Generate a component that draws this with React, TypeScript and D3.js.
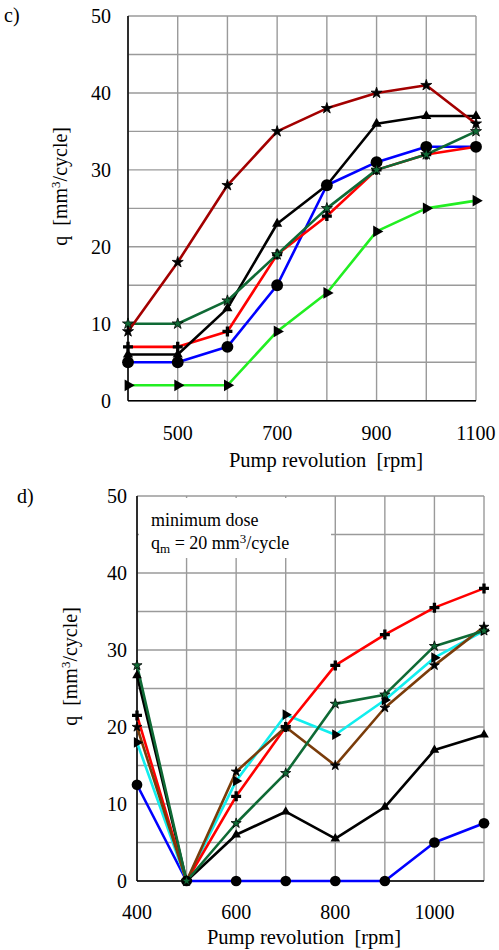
import React, { useEffect, useRef } from 'react';
import * as d3 from 'd3';

// pump revolution [rpm]
const rpm = [400, 500, 600, 700, 800, 900, 1000, 1100];

// panel c) delivered dose q [mm3/cycle]
const cDarkRed = [9, 18, 28, 35, 38, 40, 41, 36];
const cBlack = [6, 6, 12, 23, 28, 36, 37, 37];
const cBlue = [5, 5, 7, 15, 28, 31, 33, 33];
const cRed = [7, 7, 9, 19, 24, 30, 32, 33];
const cDarkGreen = [10, 10, 13, 19, 25, 30, 32, 35];
const cGreen = [2, 2, 2, 9, 14, 22, 25, 26];

// panel d) minimum dose qm = 20 mm3/cycle
const dBlue = [12.5, 0, 0, 0, 0, 0, 5, 7.5];
const dBlack = [26.7, 0, 6, 9, 5.5, 9.6, 17, 19];
const dRed = [21.5, 0, 11, 20, 28, 32, 35.5, 38];
const dCyan = [18, 0, 13, 21.6, 19, 23.5, 29, 32.5];
const dBrown = [20, 0, 14.2, 20, 15, 22.5, 28, 33];
const dDarkGreen = [28, 0, 7.5, 14, 23, 24.2, 30.5, 32.5];

const cTicksX = [500, 700, 900, 1100];
const dTicksX = [400, 600, 800, 1000];
const yTicks = [0, 10, 20, 30, 40, 50];

type Series = { values: number[]; color: string; marker: string; size: number };

const cSeries: Series[] = [
  { values: cGreen, color: '#22ee22', marker: 'right', size: 60 },
  { values: cBlue, color: '#0000ff', marker: 'circle', size: 110 },
  { values: cRed, color: '#ff0000', marker: 'plus', size: 55 },
  { values: cBlack, color: '#000000', marker: 'triangle', size: 45 },
  { values: cDarkGreen, color: '#0f6a35', marker: 'star', size: 38 },
  { values: cDarkRed, color: '#a30000', marker: 'star', size: 38 },
];

const dSeries: Series[] = [
  { values: dBlue, color: '#0000ff', marker: 'circle', size: 90 },
  { values: dBlack, color: '#000000', marker: 'triangle', size: 40 },
  { values: dCyan, color: '#11eeee', marker: 'right', size: 50 },
  { values: dRed, color: '#ff0000', marker: 'plus', size: 55 },
  { values: dBrown, color: '#7a3c0a', marker: 'star', size: 30 },
  { values: dDarkGreen, color: '#0f6a35', marker: 'star', size: 32 },
];

const FONT = '"Liberation Serif", "Times New Roman", serif';
const SP = '\u00a0';

const symbolOf = (m: string) => {
  if (m === 'circle') return d3.symbolCircle;
  if (m === 'plus') return d3.symbolCross;
  if (m === 'star') return d3.symbolStar;
  return d3.symbolTriangle;
};

function drawPanel(
  svg: d3.Selection<SVGSVGElement, unknown, null, undefined>,
  opt: {
    left: number; right: number; top: number; bottom: number;
    series: Series[]; ticksX: number[]; label: string; labelX: number; labelY: number;
    yTitleX: number; tickLabelX: number; xLabelY: number; xTitleX: number; xTitleY: number; note?: boolean;
  },
) {
  const x = d3.scaleLinear().domain([400, 1100]).range([opt.left, opt.right]);
  const y = d3.scaleLinear().domain([0, 50]).range([opt.bottom, opt.top]);
  const g = svg.append('g');

  // grid
  g.selectAll('line.vg').data(rpm).enter().append('line')
    .attr('x1', d => x(d)).attr('x2', d => x(d))
    .attr('y1', y(0)).attr('y2', y(50))
    .attr('stroke', '#9a9a9a').attr('stroke-width', 1.4);
  g.selectAll('line.hg').data(d3.range(0, 51, 5)).enter().append('line')
    .attr('x1', x(400)).attr('x2', x(1100))
    .attr('y1', d => y(d)).attr('y2', d => y(d))
    .attr('stroke', '#9a9a9a').attr('stroke-width', 1.4);

  if (opt.note) {
    g.append('rect').attr('x', x(400) + 2).attr('y', y(50) + 2)
      .attr('width', 192).attr('height', 60).attr('fill', '#fff');
    g.append('text').attr('x', x(400) + 14).attr('y', y(50) + 30)
      .style('font-family', FONT).style('font-size', '18px').text('minimum dose');
    const t = g.append('text').attr('x', x(400) + 14).attr('y', y(50) + 53)
      .style('font-family', FONT).style('font-size', '18px');
    t.append('tspan').text('q');
    t.append('tspan').attr('dy', 4).style('font-size', '13px').text('m');
    t.append('tspan').attr('dy', -4).text(' = 20 mm');
    t.append('tspan').attr('dy', -6).style('font-size', '13px').text('3');
    t.append('tspan').attr('dy', 6).text('/cycle');
  }

  // axes lines
  g.append('line').attr('x1', x(400)).attr('x2', x(400)).attr('y1', y(0)).attr('y2', y(50))
    .attr('stroke', '#000').attr('stroke-width', 1.5);
  g.append('line').attr('x1', x(400)).attr('x2', x(1100)).attr('y1', y(0)).attr('y2', y(0))
    .attr('stroke', '#000').attr('stroke-width', 1.5);

  // lines
  const line = d3.line<number>().x((_, i) => x(rpm[i])).y(d => y(d));
  opt.series.forEach(s => {
    g.append('path').attr('d', line(s.values)).attr('fill', 'none')
      .attr('stroke', s.color).attr('stroke-width', 2.6).attr('stroke-linejoin', 'round');
  });
  opt.series.forEach(s => {
    const sym = d3.symbol().type(symbolOf(s.marker)).size(s.size);
    g.selectAll(null).data(s.values).enter().append('path')
      .attr('d', sym)
      .attr('transform', (d, i) => `translate(${x(rpm[i])},${y(d)})${s.marker === 'right' ? ' rotate(90)' : ''}`)
      .attr('fill', s.marker === 'star' && s.color === '#0f6a35' ? s.color : '#000')
      .attr('stroke', s.marker === 'star' ? '#000' : 'none')
      .attr('stroke-width', s.marker === 'star' ? 0.8 : 0);
  });

  // tick labels
  g.selectAll('text.yt').data(yTicks).enter().append('text')
    .attr('x', opt.tickLabelX).attr('y', d => y(d) + 7)
    .attr('text-anchor', 'end')
    .style('font-family', FONT).style('font-size', '20px').text(d => d);
  g.selectAll('text.xt').data(opt.ticksX).enter().append('text')
    .attr('x', d => x(d)).attr('y', opt.xLabelY)
    .attr('text-anchor', 'middle')
    .style('font-family', FONT).style('font-size', '20px').text(d => d);

  g.append('text').attr('x', opt.xTitleX).attr('y', opt.xTitleY)
    .attr('text-anchor', 'middle')
    .style('font-family', FONT).style('font-size', '20.5px').text(`Pump revolution${SP}${SP}[rpm]`);

  const yt = g.append('text')
    .attr('transform', `translate(${opt.yTitleX},${(y(0) + y(50)) / 2 - 22}) rotate(-90)`)
    .attr('text-anchor', 'middle')
    .style('font-family', FONT).style('font-size', '20px');
  yt.append('tspan').text(`q${SP}${SP}[mm`);
  yt.append('tspan').attr('dy', -7).style('font-size', '13px').text('3');
  yt.append('tspan').attr('dy', 7).text('/cycle]');

  svg.append('text').attr('x', opt.labelX).attr('y', opt.labelY)
    .style('font-family', FONT).style('font-size', '20px').text(opt.label);
}

export default function App() {
  const ref = useRef<SVGSVGElement | null>(null);

  useEffect(() => {
    if (!ref.current) return;
    const svg = d3.select(ref.current);
    svg.selectAll('*').remove();
    svg.append('rect').attr('width', 499).attr('height', 950).attr('fill', '#fff');

    drawPanel(svg, {
      left: 128, right: 476, top: 16, bottom: 400.7,
      series: cSeries, ticksX: cTicksX, label: 'c)', labelX: 4, labelY: 22,
      yTitleX: 67, tickLabelX: 111, xLabelY: 440, xTitleX: 326, xTitleY: 467,
    });
    drawPanel(svg, {
      left: 137, right: 484, top: 496, bottom: 881,
      series: dSeries, ticksX: dTicksX, label: 'd)', labelX: 17, labelY: 503,
      yTitleX: 77, tickLabelX: 127, xLabelY: 919, xTitleX: 304, xTitleY: 944, note: true,
    });
  }, []);

  return (
    <div style={{ position: 'absolute', left: 0, top: 0 }}>
      <svg ref={ref} width={499} height={950} style={{ display: 'block' }} />
    </div>
  );
}
